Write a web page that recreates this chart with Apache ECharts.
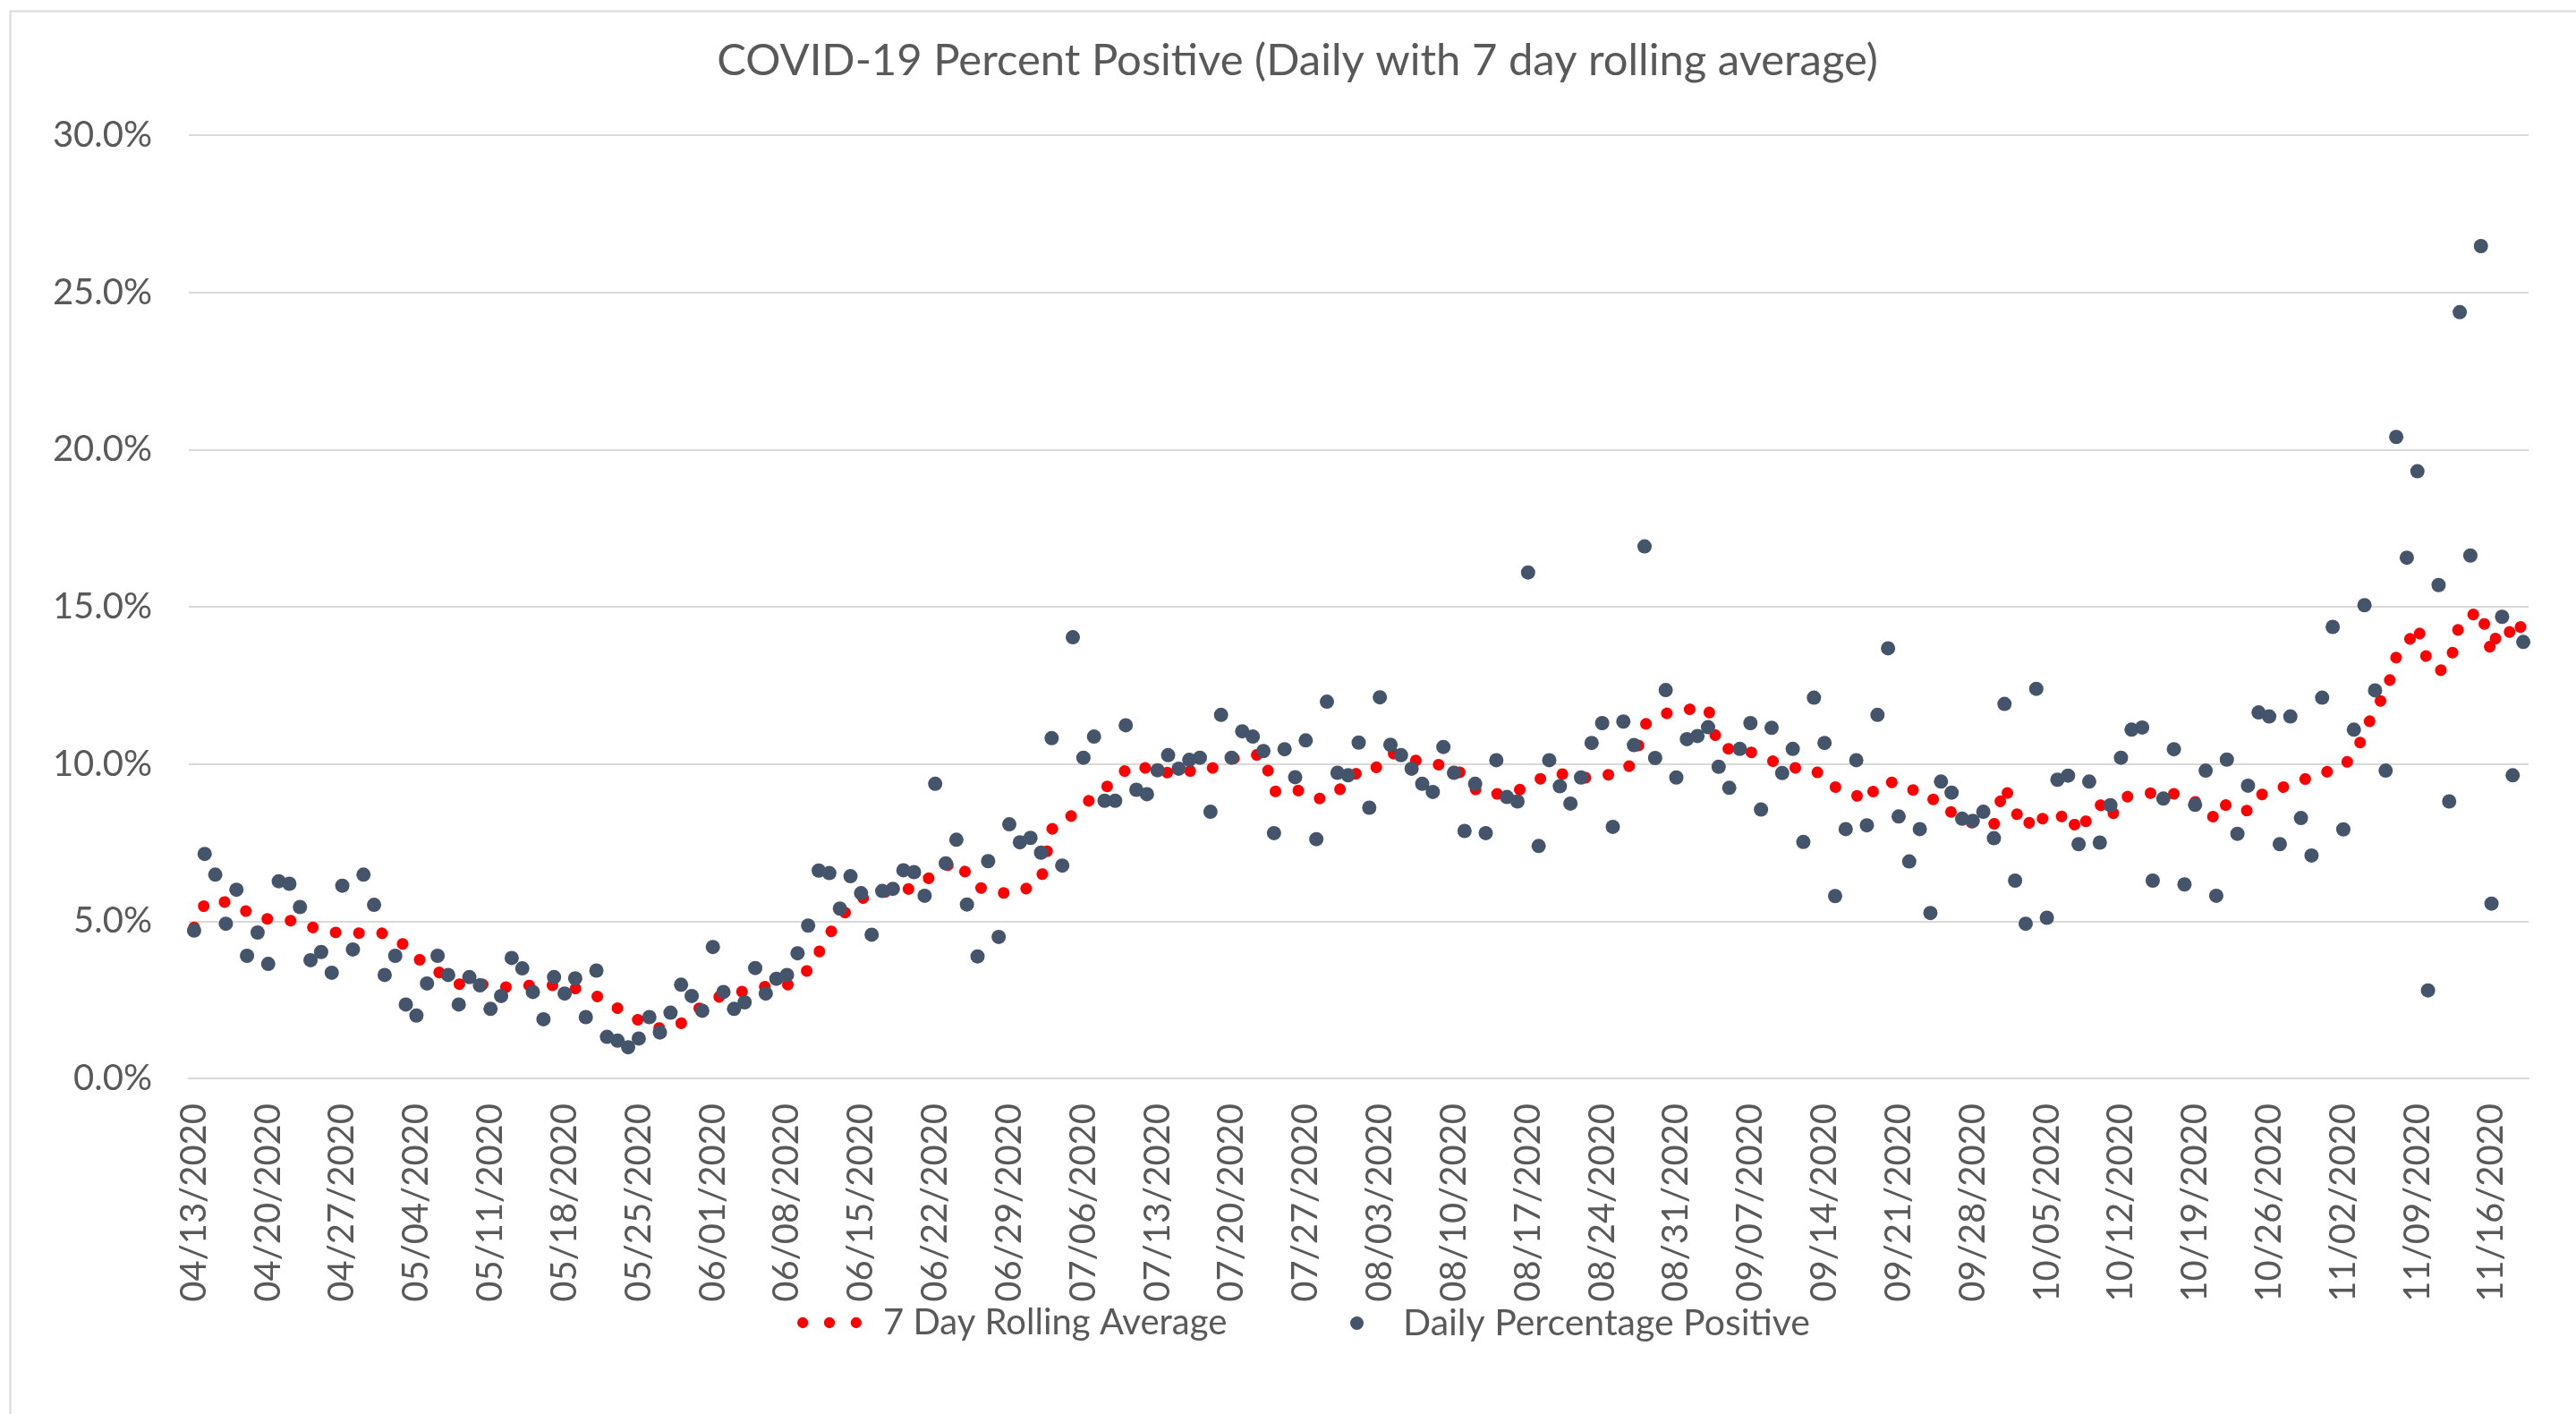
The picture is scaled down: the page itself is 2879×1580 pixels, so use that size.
<!DOCTYPE html>
<html>
<head>
<meta charset="utf-8">
<script src="https://cdn.jsdelivr.net/npm/echarts@6/dist/echarts.min.js"></script>
<style>
html,body{margin:0;padding:0;background:#fff;}
#chart{width:2879px;height:1580px;}
</style>
</head>
<body>
<div id="chart"></div>
<script>
const titleText = 'COVID-19 Percent Positive (Daily with 7 day rolling average)';
const seriesNames = ['7 Day Rolling Average', 'Daily Percentage Positive'];

const dates = [
'04/13/2020','04/14/2020','04/15/2020','04/16/2020','04/17/2020','04/18/2020','04/19/2020','04/20/2020','04/21/2020','04/22/2020','04/23/2020','04/24/2020','04/25/2020','04/26/2020','04/27/2020','04/28/2020','04/29/2020','04/30/2020',
'05/01/2020','05/02/2020','05/03/2020','05/04/2020','05/05/2020','05/06/2020','05/07/2020','05/08/2020','05/09/2020','05/10/2020','05/11/2020','05/12/2020','05/13/2020','05/14/2020','05/15/2020','05/16/2020','05/17/2020','05/18/2020','05/19/2020','05/20/2020','05/21/2020','05/22/2020','05/23/2020','05/24/2020','05/25/2020','05/26/2020','05/27/2020','05/28/2020','05/29/2020','05/30/2020','05/31/2020',
'06/01/2020','06/02/2020','06/03/2020','06/04/2020','06/05/2020','06/06/2020','06/07/2020','06/08/2020','06/09/2020','06/10/2020','06/11/2020','06/12/2020','06/13/2020','06/14/2020','06/15/2020','06/16/2020','06/17/2020','06/18/2020','06/19/2020','06/20/2020','06/21/2020','06/22/2020','06/23/2020','06/24/2020','06/25/2020','06/26/2020','06/27/2020','06/28/2020','06/29/2020','06/30/2020',
'07/01/2020','07/02/2020','07/03/2020','07/04/2020','07/05/2020','07/06/2020','07/07/2020','07/08/2020','07/09/2020','07/10/2020','07/11/2020','07/12/2020','07/13/2020','07/14/2020','07/15/2020','07/16/2020','07/17/2020','07/18/2020','07/19/2020','07/20/2020','07/21/2020','07/22/2020','07/23/2020','07/24/2020','07/25/2020','07/26/2020','07/27/2020','07/28/2020','07/29/2020','07/30/2020','07/31/2020',
'08/01/2020','08/02/2020','08/03/2020','08/04/2020','08/05/2020','08/06/2020','08/07/2020','08/08/2020','08/09/2020','08/10/2020','08/11/2020','08/12/2020','08/13/2020','08/14/2020','08/15/2020','08/16/2020','08/17/2020','08/18/2020','08/19/2020','08/20/2020','08/21/2020','08/22/2020','08/23/2020','08/24/2020','08/25/2020','08/26/2020','08/27/2020','08/28/2020','08/29/2020','08/30/2020','08/31/2020',
'09/01/2020','09/02/2020','09/03/2020','09/04/2020','09/05/2020','09/06/2020','09/07/2020','09/08/2020','09/09/2020','09/10/2020','09/11/2020','09/12/2020','09/13/2020','09/14/2020','09/15/2020','09/16/2020','09/17/2020','09/18/2020','09/19/2020','09/20/2020','09/21/2020','09/22/2020','09/23/2020','09/24/2020','09/25/2020','09/26/2020','09/27/2020','09/28/2020','09/29/2020','09/30/2020',
'10/01/2020','10/02/2020','10/03/2020','10/04/2020','10/05/2020','10/06/2020','10/07/2020','10/08/2020','10/09/2020','10/10/2020','10/11/2020','10/12/2020','10/13/2020','10/14/2020','10/15/2020','10/16/2020','10/17/2020','10/18/2020','10/19/2020','10/20/2020','10/21/2020','10/22/2020','10/23/2020','10/24/2020','10/25/2020','10/26/2020','10/27/2020','10/28/2020','10/29/2020','10/30/2020','10/31/2020',
'11/01/2020','11/02/2020','11/03/2020','11/04/2020','11/05/2020','11/06/2020','11/07/2020','11/08/2020','11/09/2020','11/10/2020','11/11/2020','11/12/2020','11/13/2020','11/14/2020','11/15/2020','11/16/2020','11/17/2020','11/18/2020','11/19/2020'
];

// Daily percentage positive (%)
const dailyPositive = [
4.70,7.14,6.48,4.92,6.00,3.90,4.64,3.64,6.27,6.19,5.45,3.76,4.02,3.36,6.13,4.10,6.48,5.52,3.29,3.90,
2.35,2.00,3.02,3.90,3.29,2.35,3.22,2.96,2.21,2.62,3.83,3.50,2.75,1.88,3.22,2.70,3.18,1.95,3.43,1.32,
1.20,0.99,1.27,1.95,1.46,2.09,2.98,2.62,2.15,4.18,2.75,2.21,2.42,3.51,2.70,3.17,3.29,3.98,4.86,6.61,
6.53,5.40,6.43,5.89,4.57,5.96,6.03,6.62,6.56,5.81,9.37,6.84,7.59,5.53,3.88,6.91,4.50,8.08,7.51,7.65,
7.18,10.82,6.77,14.03,10.20,10.87,8.83,8.83,11.23,9.18,9.04,9.80,10.28,9.85,10.13,10.20,8.48,11.56,10.20,11.04,
10.87,10.41,7.80,10.47,9.58,10.75,7.61,11.98,9.72,9.64,10.68,8.61,12.12,10.61,10.28,9.85,9.37,9.11,10.54,9.72,
7.87,9.37,7.80,10.12,8.95,8.81,16.09,7.39,10.12,9.29,8.74,9.57,10.67,11.30,8.00,11.35,10.60,16.92,10.19,12.35,
9.57,10.79,10.89,11.17,9.91,9.24,10.48,11.30,8.55,11.15,9.71,10.48,7.52,12.11,10.67,5.80,7.93,10.12,8.05,11.56,
13.68,8.33,6.90,7.93,5.26,9.44,9.09,8.26,8.19,8.48,7.64,11.91,6.29,4.92,12.39,5.11,9.50,9.63,7.45,9.44,
7.50,8.69,10.20,11.09,11.16,6.29,8.90,10.47,6.17,8.70,9.79,5.81,10.14,7.78,9.31,11.64,11.51,7.45,11.51,8.28,
7.09,12.11,14.36,7.92,11.09,15.05,12.34,9.79,20.40,16.56,19.31,2.80,15.69,8.81,24.37,16.63,26.47,5.56,14.68,9.64,
13.88
];

// 7 day rolling average (%)
const rollingAverage = [
4.80,5.55,5.68,5.60,5.50,5.30,5.10,5.07,5.05,5.03,4.92,4.82,4.73,4.65,4.63,4.61,4.63,4.66,4.60,4.45,
4.20,3.85,3.60,3.40,3.20,3.00,2.98,3.00,2.95,2.92,2.89,2.93,2.97,2.97,2.96,2.93,2.86,2.79,2.62,2.44,
2.23,2.03,1.85,1.66,1.60,1.58,1.75,2.05,2.30,2.54,2.63,2.70,2.78,2.87,2.92,2.94,2.96,3.20,3.45,4.00,
4.58,5.10,5.45,5.70,5.88,5.92,5.96,6.00,6.05,6.25,6.55,6.75,6.92,6.50,6.10,5.97,5.92,5.87,5.95,6.10,
6.30,7.93,8.05,8.40,8.70,8.95,9.20,9.55,9.80,10.00,9.85,9.70,9.73,9.82,9.78,9.73,9.85,9.97,10.15,10.27,
10.28,10.30,9.12,9.17,9.20,9.05,8.88,8.95,9.07,9.60,9.72,9.68,10.00,10.35,10.28,10.15,10.05,9.97,9.98,9.90,
9.60,9.20,9.00,9.05,9.05,9.15,9.30,9.50,9.68,9.70,9.60,9.57,9.55,9.60,9.70,9.75,10.08,11.25,11.45,11.60,
11.70,11.73,11.76,11.79,10.50,10.48,10.45,10.38,10.25,10.10,10.00,9.90,9.80,9.82,9.55,9.27,9.10,9.00,8.80,9.35,
9.45,9.35,9.30,8.95,8.88,8.85,8.45,8.25,8.12,8.10,8.07,9.30,8.50,7.95,8.50,8.10,8.22,8.50,7.80,8.35,
8.72,8.25,8.90,9.00,9.05,9.08,9.08,9.05,9.00,8.80,8.60,8.20,8.75,8.65,8.50,8.95,9.20,9.22,9.35,9.50,
9.55,9.65,9.87,9.93,10.30,10.95,11.80,12.20,13.40,13.80,14.40,13.20,12.95,13.10,14.50,14.70,14.90,13.50,14.80,13.95,
14.50
];

const yTicks = { min: 0, max: 30, interval: 5 };

const FONT = 'Lato';
const TXT = '#595959';
const GRID_C = '#d9d9d9';

const chart = echarts.init(document.getElementById('chart'), null, { renderer: 'canvas' });
chart.setOption({
  backgroundColor: '#ffffff',
  animation: false,
  title: {
    text: titleText,
    left: 1450,
    textAlign: 'center',
    top: 44,
    padding: 0,
    textStyle: { fontFamily: FONT, fontSize: 49, fontWeight: 'normal', color: TXT }
  },
  legend: [
    {
      data: [{ name: seriesNames[0], icon: 'path://M0,6a6,6 0 1,0 12,0a6,6 0 1,0 -12,0M29,6a6,6 0 1,0 12,0a6,6 0 1,0 -12,0M58,6a6,6 0 1,0 12,0a6,6 0 1,0 -12,0' }],
      left: 891, top: 1458, padding: 0,
      itemWidth: 72, itemHeight: 14,
      textStyle: { fontFamily: FONT, fontSize: 40, color: TXT, padding: [0, 0, 0, 19] }
    },
    {
      data: [{ name: seriesNames[1], icon: 'circle' }],
      left: 1509, top: 1458, padding: 0,
      itemWidth: 15, itemHeight: 15,
      textStyle: { fontFamily: FONT, fontSize: 41, color: TXT, padding: [0, 0, 0, 39] }
    }
  ],
  graphic: [{
    type: 'rect', silent: true, z: -10,
    shape: { x: 11.5, y: 12.5, width: 2900, height: 1600 },
    style: { fill: 'none', stroke: GRID_C, lineWidth: 2 }
  }],
  grid: { left: 211, right: 53, top: 151, bottom: 375, containLabel: false },
  xAxis: {
    type: 'category',
    data: dates,
    boundaryGap: true,
    axisLine: { show: true, lineStyle: { color: GRID_C, width: 2 } },
    axisTick: { show: false },
    axisLabel: {
      interval: 6, rotate: 90, margin: 28,
      fontFamily: FONT, fontSize: 40, color: TXT
    },
    splitLine: { show: false }
  },
  yAxis: {
    type: 'value',
    min: yTicks.min, max: yTicks.max, interval: yTicks.interval,
    axisLine: { show: false },
    axisTick: { show: false },
    axisLabel: {
      margin: 41, fontFamily: FONT, fontSize: 40, color: TXT,
      formatter: v => v.toFixed(1) + '%'
    },
    splitLine: { lineStyle: { color: GRID_C, width: 2 } }
  },
  series: [
    {
      name: seriesNames[0],
      type: 'line',
      data: rollingAverage,
      symbol: 'none',
      showSymbol: false,
      smooth: false,
      itemStyle: { color: '#ff0000' },
      lineStyle: { color: '#ff0000', width: 13, type: [0.1, 26], cap: 'round', join: 'round' },
      z: 2
    },
    {
      name: seriesNames[1],
      type: 'scatter',
      data: dailyPositive,
      symbol: 'circle',
      symbolSize: 16,
      itemStyle: { color: '#44546a', opacity: 1 },
      z: 3
    }
  ]
});
</script>
</body>
</html>
